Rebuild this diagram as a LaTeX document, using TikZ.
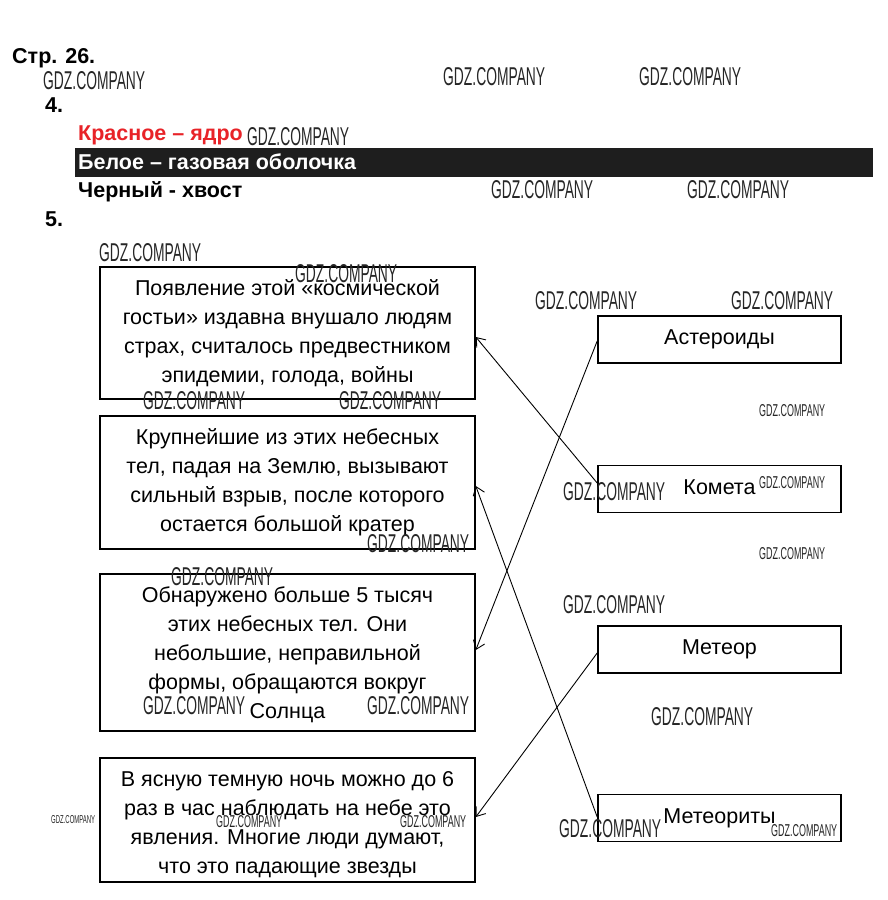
\documentclass[tikz,border=0pt]{standalone}
\usepackage{fontspec}
\usepackage{graphicx}
\setmainfont{Liberation Sans}
\usetikzlibrary{arrows.meta}
\definecolor{redtxt}{RGB}{232,35,40}
\definecolor{barcol}{RGB}{30,30,30}
\newcommand\gdzB{\resizebox{102pt}{18pt}{GDZ.COMPANY}}
\newcommand\gdzS{\resizebox{66pt}{12pt}{GDZ.COMPANY}}
\newcommand\gdzT{\resizebox{44pt}{8pt}{GDZ.COMPANY}}
\tikzset{
  head/.style={anchor=base west, inner sep=0pt, font=\fontsize{21.5}{24}\selectfont\bfseries},
  lbox/.style={draw, line width=1.6pt, minimum width=375pt, align=center, inner sep=0pt,
               font=\fontsize{21.5}{29}\selectfont},
  btext/.style={align=center, inner sep=0pt, font=\fontsize{21.5}{29}\selectfont},
  rbox/.style={draw, line width=1.6pt, minimum width=243pt, minimum height=47pt, inner sep=0pt,
               font=\fontsize{21.5}{29}\selectfont},
  arr/.style={line width=0.9pt, -{Straight Barb[length=8pt,width=12pt]}},
  wm/.style={anchor=west, inner sep=0pt, text=black!85}
}
\begin{document}
\begin{tikzpicture}[x=1pt,y=-1pt]
\useasboundingbox (0,0) rectangle (887,900);
\fill[white] (0,0) rectangle (887,900);
% header
\node[head] (h1) at (12,63) {Стр. 26.};
\node[head] (h4) at (45,112) {4.};
\node[head, text=redtxt] (hred) at (78,140) {Красное – ядро};
\fill[barcol] (75,148) rectangle (873,177);
\node[head, text=white] (hwhite) at (78,169) {Белое – газовая оболочка};
\node[head] (hblack) at (78,197) {Черный - хвост};
\node[head] (h5) at (45,226) {5.};
% left boxes
\node[lbox, minimum height=132pt] (b1) at (287.5,333) {Появление этой «космической\\гостьи» издавна внушало людям\\страх, считалось предвестником\\эпидемии, голода, войны};
\node[lbox, minimum height=133pt] (b2) at (287.5,482.5) {Крупнейшие из этих небесных\\тел, падая на Землю, вызывают\\сильный взрыв, после которого\\остается большой кратер};
\node[lbox, minimum height=157pt] (b3) at (287.5,652.5) {};
\node[btext] (t3) at ([yshift=-2.5pt]b3.center) {Обнаружено больше 5 тысяч\\этих небесных тел. Они\\небольшие, неправильной\\формы, обращаются вокруг\\Солнца};
\node[lbox, minimum height=124pt] (b4) at (287.5,820) {};
\node[btext] (t4) at ([yshift=-4.5pt]b4.center) {В ясную темную ночь можно до 6\\раз в час наблюдать на небе это\\явления. Многие люди думают,\\что это падающие звезды};
% right boxes
\node[rbox] (ast) at (719.5,339.5) {\raisebox{3pt}{Астероиды}};
\node[rbox] (kom) at (719.5,489) {\raisebox{4pt}{Комета}};
\node[rbox] (met) at (719.5,649.5) {\raisebox{3pt}{Метеор}};
\node[rbox] (mets) at (719.5,818) {\raisebox{4pt}{Метеориты}};
% connectors
\draw[arr] ([yshift=6pt]kom.west) -- ([yshift=-4pt]b1.east);
\draw[arr] ([yshift=-1.5pt]ast.west) -- ([yshift=2.5pt]b3.east);
\draw[arr] ([yshift=-3.5pt]met.west) -- ([yshift=3pt]b4.east);
\draw[arr] ([yshift=1pt]mets.west) -- ([yshift=-3.5pt]b2.east);
% watermarks
\node[wm] (w1) at (43,81) {\gdzB};
\node[wm] (w2) at (443,77) {\gdzB};
\node[wm] (w3) at (639,77) {\gdzB};
\node[wm] (w4) at (247,137) {\gdzB};
\node[wm] (w5) at (491,189.5) {\gdzB};
\node[wm] (w6) at (687,189.5) {\gdzB};
\node[wm] (w7) at (99,253) {\gdzB};
\node[wm] (w8) at (295,274) {\gdzB};
\node[wm] (w9) at (535,301) {\gdzB};
\node[wm] (w10) at (731,301) {\gdzB};
\node[wm] (w11) at (143,401) {\gdzB};
\node[wm] (w12) at (339,401) {\gdzB};
\node[wm] (w13) at (759,411) {\gdzS};
\node[wm] (w14) at (563,492) {\gdzB};
\node[wm] (w15) at (759,482.5) {\gdzS};
\node[wm] (w16) at (367,544) {\gdzB};
\node[wm] (w17) at (759,554) {\gdzS};
\node[wm] (w18) at (171,577) {\gdzB};
\node[wm] (w19) at (563,605) {\gdzB};
\node[wm] (w20) at (143,706) {\gdzB};
\node[wm] (w21) at (367,706) {\gdzB};
\node[wm] (w22) at (651,717) {\gdzB};
\node[wm] (w23) at (51,820) {\gdzT};
\node[wm] (w24) at (216,822) {\gdzS};
\node[wm] (w25) at (400,822) {\gdzS};
\node[wm] (w26) at (559,829) {\gdzB};
\node[wm] (w27) at (771,831) {\gdzS};
\end{tikzpicture}
\end{document}
